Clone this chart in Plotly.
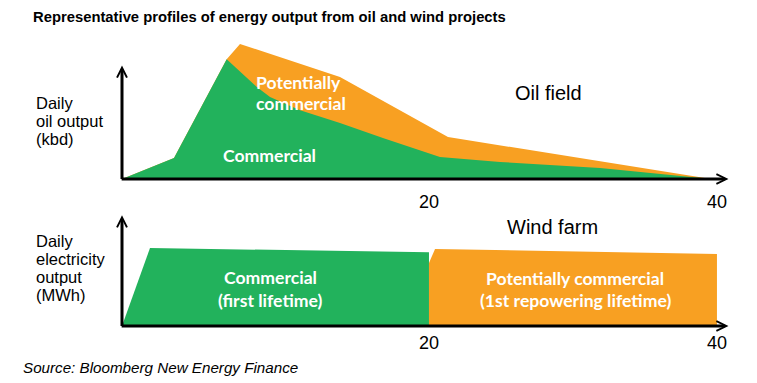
import plotly.graph_objects as go

# ---------------- data (years vs. relative output) ----------------
oil_years_commercial = [-1.32, 2.29, 5.95, 8.0, 8.96, 11.05, 13.82, 16.8, 20.76, 24.93, 31.88, 39.6]
oil_commercial = [0, 15.6, 88.7, 68.6, 60.7, 50.9, 41.5, 30.4, 16.3, 12.6, 8.1, 0]

oil_years_total = [-1.32, 2.29, 5.95, 6.875, 13.82, 21.32, 39.6]
oil_total = [0, 15.6, 88.7, 100, 75.6, 31.1, 0]

wind_years_first = [-1.32, 0.625, 20.0, 20.0]
wind_first = [0, 100, 94.5, 0]

wind_years_repower = [20.0, 20.0, 20.42, 40.0, 40.0]
wind_repower = [0, 80.8, 98.7, 92.3, 0]

tick_vals = [20, 40]
tick_text = ["20", "40"]

GREEN = "#22B25C"
ORANGE = "#F8A022"
OFF = 8                      # page body margin of the html page
W, H = 757 - OFF, 383 - OFF


def px_x(p):
    return (p - OFF) / W


def px_y(p):
    return 1 - (p - OFF) / H


fig = go.Figure()

# top panel
fig.add_trace(go.Scatter(x=oil_years_total, y=oil_total, mode="lines", fill="tozeroy",
                         fillcolor=ORANGE, line=dict(width=0, color=ORANGE),
                         xaxis="x", yaxis="y", hoverinfo="skip"))
fig.add_trace(go.Scatter(x=oil_years_commercial, y=oil_commercial, mode="lines", fill="tozeroy",
                         fillcolor=GREEN, line=dict(width=0, color=GREEN),
                         xaxis="x", yaxis="y", hoverinfo="skip"))
# bottom panel
fig.add_trace(go.Scatter(x=wind_years_first, y=wind_first, mode="lines", fill="toself",
                         fillcolor=GREEN, line=dict(width=0, color=GREEN),
                         xaxis="x2", yaxis="y2", hoverinfo="skip"))
fig.add_trace(go.Scatter(x=wind_years_repower, y=wind_repower, mode="lines", fill="toself",
                         fillcolor=ORANGE, line=dict(width=0, color=ORANGE),
                         xaxis="x2", yaxis="y2", hoverinfo="skip"))

xdom = [px_x(122), px_x(740)]
xrange_ = [-1.32, 41.6]
tickfont = dict(family="Liberation Sans, Arial, sans-serif", size=18, color="#000")

fig.update_layout(
    width=W, height=H,
    margin=dict(l=0, r=0, t=0, b=0),
    paper_bgcolor="white", plot_bgcolor="rgba(0,0,0,0)",
    showlegend=False,
    xaxis=dict(domain=xdom, range=xrange_, anchor="y", tickvals=tick_vals, ticktext=tick_text,
               showgrid=False, zeroline=False, showline=False, ticks="", tickfont=tickfont,
               ticklabelstandoff=10),
    yaxis=dict(domain=[px_y(179), px_y(40)], range=[0, (179 - 40) / 1.35], visible=False),
    xaxis2=dict(domain=xdom, range=xrange_, anchor="y2", tickvals=tick_vals, ticktext=tick_text,
                showgrid=False, zeroline=False, showline=False, ticks="", tickfont=tickfont,
                ticklabelstandoff=4),
    yaxis2=dict(domain=[px_y(326), px_y(205)], range=[0, (326 - 205) / 0.78], visible=False),
)

ann = []


def arrow(xr, yr, x, y, ax, ay):
    ann.append(dict(xref=xr, yref=yr, axref=xr, ayref=yr, x=x, y=y, ax=ax, ay=ay, text="",
                    showarrow=True, arrowhead=5, arrowsize=0.65, arrowwidth=3,
                    arrowcolor="black", standoff=0, startstandoff=0))


arrow("x", "y", -1.32, 84.0, -1.32, -1.2)      # top y-axis
arrow("x", "y", 40.8, 0, -1.45, 0)             # top x-axis
arrow("x2", "y2", -1.32, 142.0, -1.32, -1.8)   # bottom y-axis
arrow("x2", "y2", 40.8, 0, -1.45, 0)           # bottom x-axis

SANS = "Liberation Sans, Arial, sans-serif"
lab_font = dict(family=SANS, size=16.5, color="#000")
white_font = dict(family="Lato, Open Sans, sans-serif", size=17.6, color="white")


def text(t, x, y, font, xanchor="left"):
    ann.append(dict(xref="paper", yref="paper", x=px_x(x), y=px_y(y), text=t, showarrow=False,
                    xanchor=xanchor, yanchor="middle", font=font))


text("<b>Representative profiles of energy output from oil and wind projects</b>", 31, 17,
     dict(family=SANS, size=14.8, color="#000"))

for t, y in [("Daily", 103), ("oil output", 121), ("(kbd)", 139)]:
    text(t, 34, y, lab_font)
for t, y in [("Daily", 241), ("electricity", 259), ("output", 277), ("(MWh)", 295)]:
    text(t, 34, y, lab_font)

text("Oil field", 548, 93, dict(family=SANS, size=20, color="#000"), "center")
text("Wind farm", 552, 227, dict(family=SANS, size=20, color="#000"), "center")

text("<b>Potentially</b>", 254, 82, white_font)
text("<b>commercial</b>", 254, 103, white_font)
text("<b>Commercial</b>", 269, 155, white_font, "center")

text("<b>Commercial</b>", 270, 277, white_font, "center")
text("<b>(first lifetime)</b>", 270, 300, white_font, "center")
text("<b>Potentially commercial</b>", 575, 278, white_font, "center")
text("<b>(1st repowering lifetime)</b>", 575, 300, white_font, "center")

text("<i>Source: Bloomberg New Energy Finance</i>", 21, 367,
     dict(family=SANS, size=15.2, color="#000"))

fig.update_layout(annotations=ann)
fig.write_html("out.html")
